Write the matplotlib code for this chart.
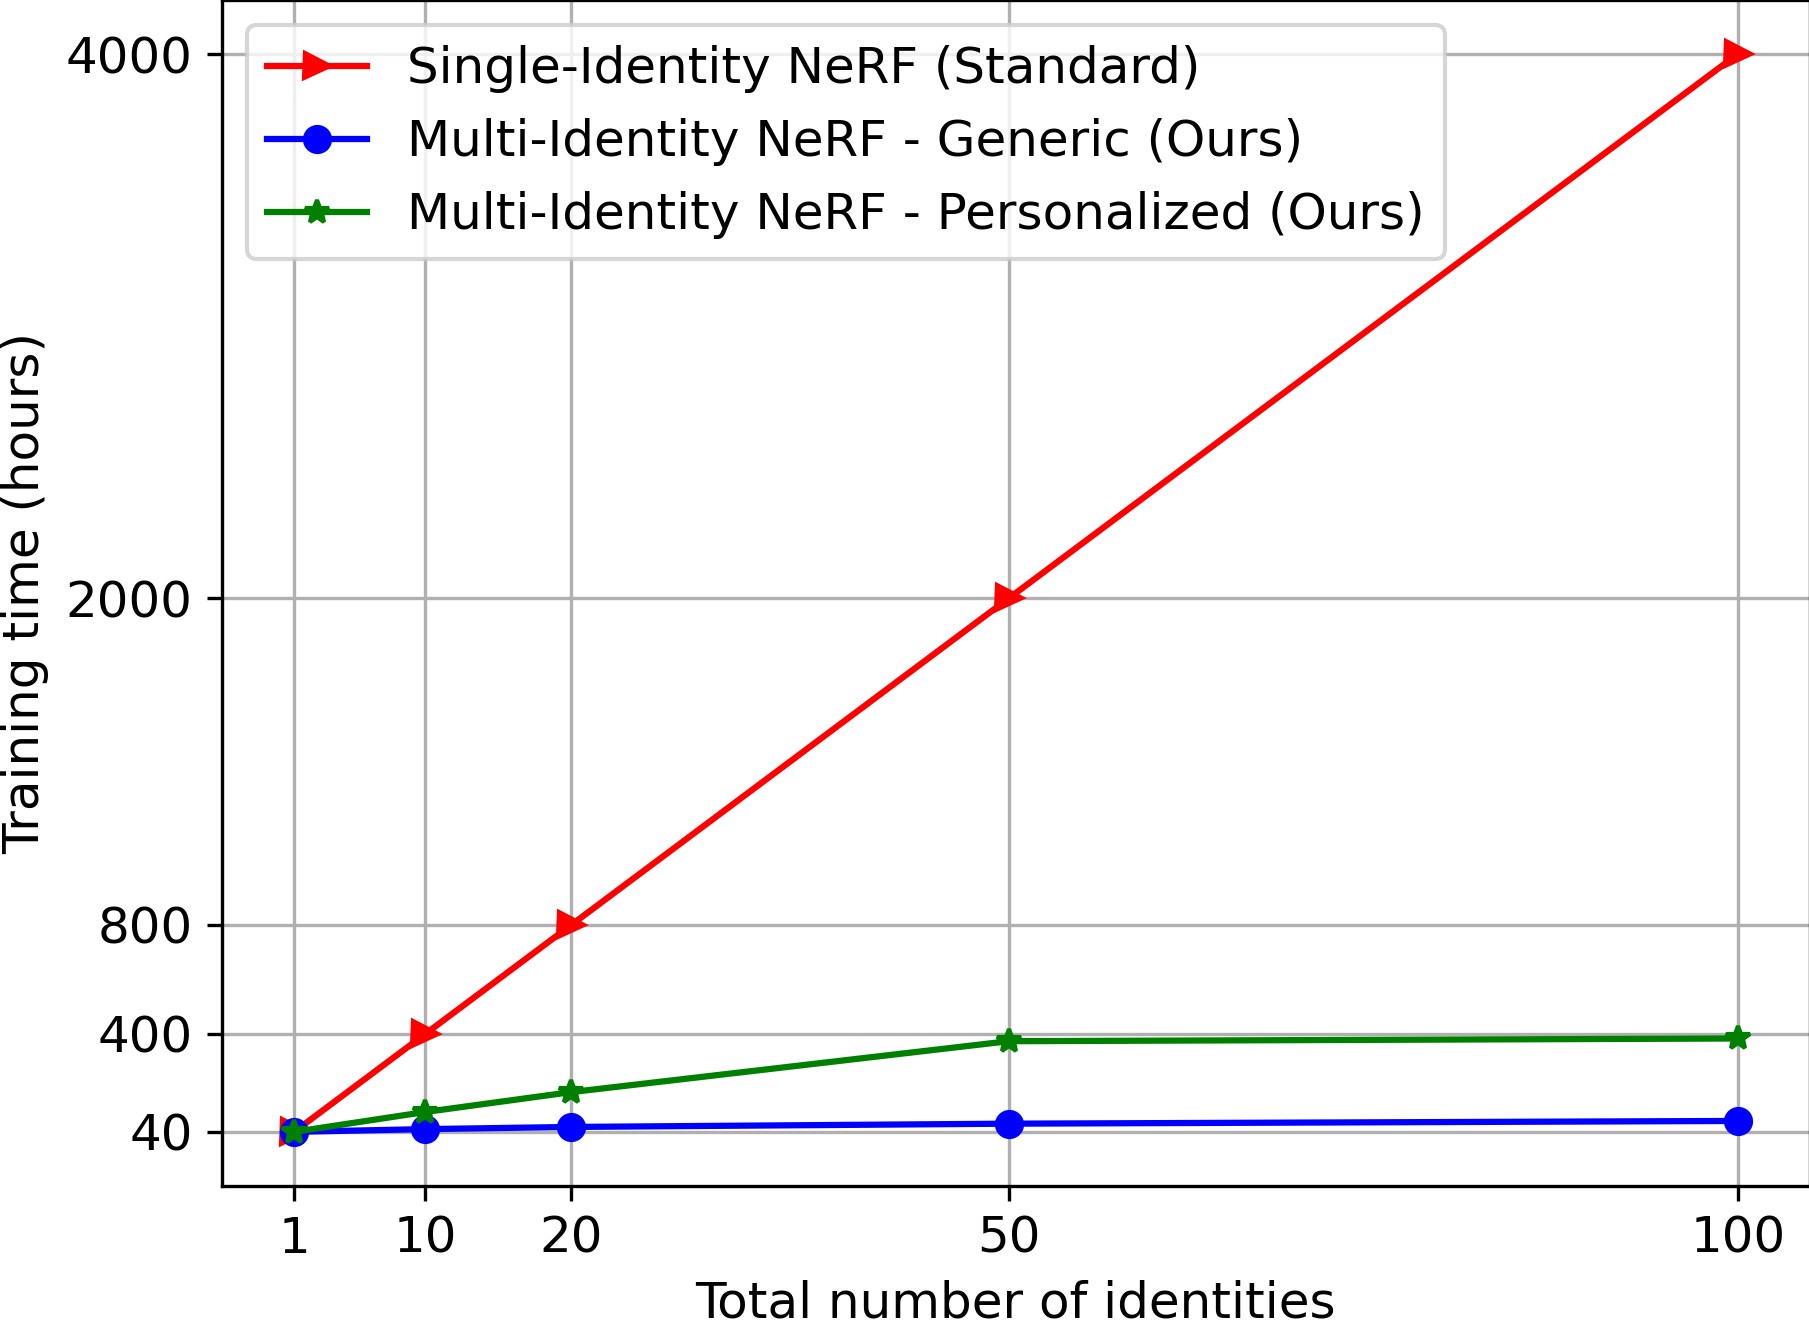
import numpy as np
import matplotlib
matplotlib.use("Agg")
import matplotlib.pyplot as plt

# number of identities vs training time (hours)
identities = [1, 10, 20, 50, 100]
single_std = [40, 400, 800, 2000, 4000]
multi_generic = [40, 50, 58, 70, 80]
multi_personal = [40, 113, 186, 373, 383]
ytick_vals = [40, 400, 800, 2000, 4000]

plt.rcParams['font.size'] = 12

fig = plt.figure(figsize=(1809/300, 1329/300), dpi=300)
ax = fig.add_axes([0.1227, 0.1078, 0.8778, 0.8921])

ax.plot(identities, single_std, color='red', marker='>', label='Single-Identity NeRF (Standard)')
ax.plot(identities, multi_generic, color='blue', marker='o', label='Multi-Identity NeRF - Generic (Ours)')
ax.plot(identities, multi_personal, color='green', marker='*', label='Multi-Identity NeRF - Personalized (Ours)')

ax.set_xticks(identities)
ax.set_yticks(ytick_vals)
ax.grid(True)
ax.set_xlabel('Total number of identities')
ax.set_ylabel('Training time (hours)')
ax.legend(loc='upper left')

fig.savefig('out.png', dpi=300)
